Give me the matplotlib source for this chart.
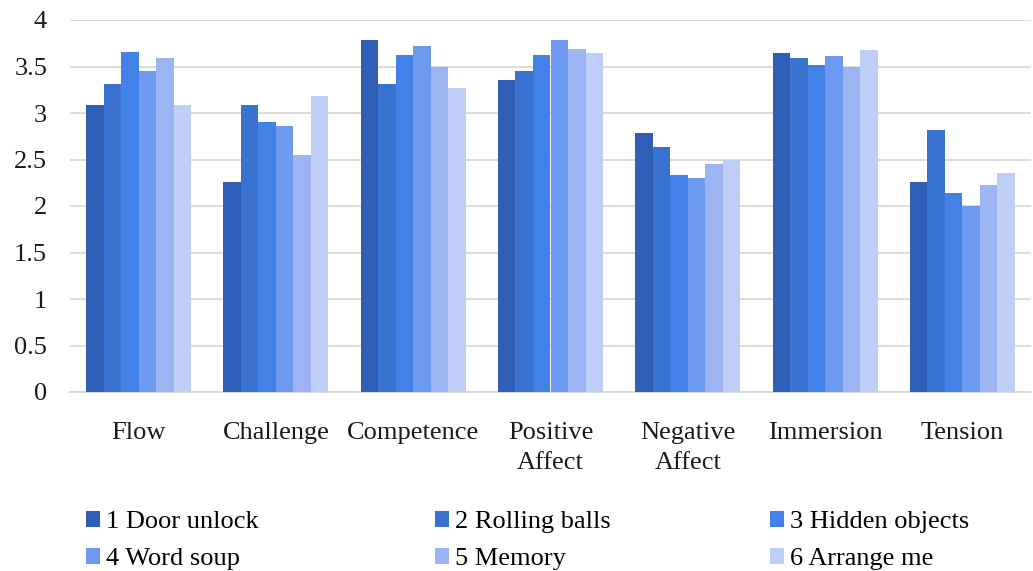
import matplotlib
matplotlib.use("Agg")
import matplotlib.pyplot as plt
from matplotlib.patches import Patch
import numpy as np

categories = ["Flow", "Challenge", "Competence", "Positive\nAffect",
              "Negative\nAffect", "Immersion", "Tension"]
series_names = ["1 Door unlock", "2 Rolling balls", "3 Hidden objects",
                "4 Word soup", "5 Memory", "6 Arrange me"]

door_unlock = [3.09, 2.26, 3.78, 3.35, 2.78, 3.65, 2.26]
rolling_balls = [3.31, 3.09, 3.31, 3.45, 2.63, 3.59, 2.82]
hidden_objects = [3.66, 2.90, 3.62, 3.62, 2.33, 3.52, 2.14]
word_soup = [3.45, 2.86, 3.72, 3.78, 2.30, 3.61, 2.00]
memory = [3.59, 2.55, 3.50, 3.69, 2.45, 3.50, 2.23]
arrange_me = [3.09, 3.18, 3.27, 3.64, 2.50, 3.68, 2.35]

y_ticks = [0, 0.5, 1, 1.5, 2, 2.5, 3, 3.5, 4]
y_tick_labels = ["0", "0.5", "1", "1.5", "2", "2.5", "3", "3.5", "4"]

series = [door_unlock, rolling_balls, hidden_objects, word_soup, memory, arrange_me]
colors = ["#2E5EB5", "#3A72D2", "#4282E8", "#6E99F0", "#9DB4F3", "#BFCEF6"]

plt.rcParams["font.family"] = ["Liberation Serif", "DejaVu Serif"]
fs = 19

fig = plt.figure(figsize=(10.33, 5.71), dpi=100)
ax = fig.add_axes([70 / 1033, 1 - 392 / 571, 961 / 1033, 372 / 571])

x = np.arange(len(categories))
group_w = 0.765
bar_w = group_w / len(series)
for i, (vals, c) in enumerate(zip(series, colors)):
    offs = -group_w / 2 + bar_w * (i + 0.5)
    ax.bar(x + offs, vals, width=bar_w, color=c, label=series_names[i], zorder=3)

ax.set_xlim(-0.5, len(categories) - 0.5)
ax.set_ylim(0, 4)
ax.set_yticks(y_ticks)
ax.set_yticklabels(y_tick_labels, fontsize=fs)
ax.set_xticks(x)
ax.set_xticklabels(categories, fontsize=fs, linespacing=1.45, va="top")
ax.tick_params(axis="both", length=0, colors="#1a1a1a")
ax.tick_params(axis="y", pad=16.5)
ax.tick_params(axis="x", pad=21.5)
ax.grid(axis="y", color="#D9D9D9", linewidth=1.3, zorder=0)
for s in ["top", "right", "left"]:
    ax.spines[s].set_visible(False)
ax.spines["bottom"].set_color("#D9D9D9")
ax.spines["bottom"].set_linewidth(1.3)

# legend laid out in three fixed columns, two rows, filled row by row
col_x = [86 / 1033, 435 / 1033, 770 / 1033]
for col in range(3):
    idx = [col, col + 3]
    handles = [Patch(facecolor=colors[k], edgecolor="none") for k in idx]
    labels = [series_names[k] for k in idx]
    fig.legend(handles, labels, loc="upper left",
               bbox_to_anchor=(col_x[col], 1 - 511 / 571),
               frameon=False, fontsize=fs, handlelength=0.53, handleheight=0.53,
               handletextpad=0.22, labelspacing=0.57, borderaxespad=0,
               borderpad=0)

fig.savefig("out.png", dpi=100, facecolor="white")
